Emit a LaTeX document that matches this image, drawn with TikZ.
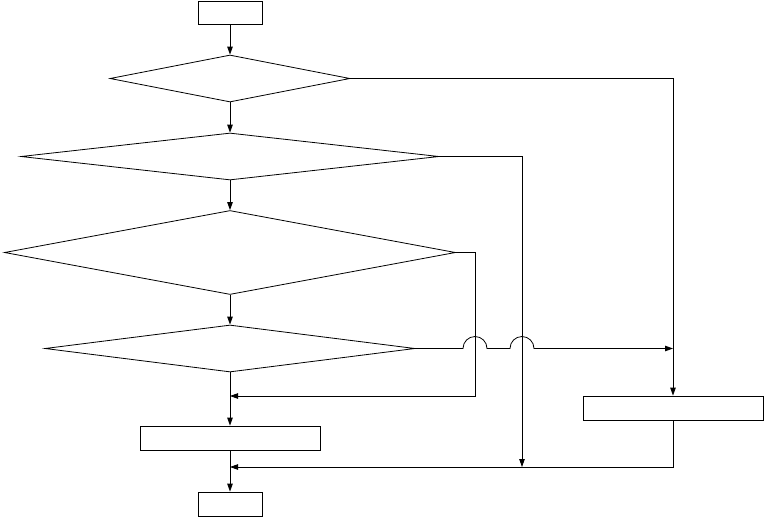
\documentclass[tikz,border=0pt]{standalone}
\usetikzlibrary{shapes.geometric,arrows.meta}
\tikzset{
	box/.style     = {rectangle,draw,line width=0.8pt,inner sep=0pt},
	decision/.style= {diamond,draw,line width=0.8pt,inner sep=0pt},
	arr/.style     = {line width=0.8pt,-{Triangle[length=8pt,width=5.5pt]}},
	ln/.style      = {line width=0.8pt}
}
\begin{document}
\begin{tikzpicture}[x=1pt,y=-1pt]
			\useasboundingbox (0,0) rectangle (764,517);

			\node at (230, 12.5) [box,minimum width=64pt,minimum height=23pt]       (start)   {};
			\node at (230, 78.5) [decision,minimum width=240pt,minimum height=47pt] (check_a) {};
			\node at (230,156.5) [decision,minimum width=418pt,minimum height=47pt] (check_b) {};
			\node at (230,252.5) [decision,minimum width=451pt,minimum height=84pt] (check_c) {};
			\node at (230,348.5) [decision,minimum width=370pt,minimum height=47pt] (check_d) {};
			\node at (230,438)   [box,minimum width=180pt,minimum height=24pt]      (action)  {};
			\node at (230,504)   [box,minimum width=64pt,minimum height=24pt]       (stop)    {};
			\node at (673,408)   [box,minimum width=180pt,minimum height=24pt]      (side)    {};

			\coordinate (join_a) at (230,396);
			\coordinate (join_b) at (230,467);
			\coordinate (drop_b) at (522,467);
			\coordinate (turn_c) at (475,252.5);
			\coordinate (hit_d)  at (673,348.5);

			\draw[arr] (start.south)   -- (check_a.north);
			\draw[arr] (check_a.south) -- (check_b.north);
			\draw[arr] (check_b.south) -- (check_c.north);
			\draw[arr] (check_c.south) -- (check_d.north);
			\draw[arr] (check_d.south) -- (action.north);
			\draw[arr] (action.south)  -- (stop.north);

			\draw[arr] (check_a.east) -| (side.north);
			\draw[arr] (check_b.east) -| (drop_b);
			\draw[arr] (check_c.east) -- (turn_c) |- (join_a);
			\draw[arr] (check_d.east) -- (463,348.5) arc (180:0:12pt) -- (510,348.5) arc (180:0:12pt) -- (hit_d);
			\draw[arr] (side.south) |- (join_b);
		\end{tikzpicture}
\end{document}
